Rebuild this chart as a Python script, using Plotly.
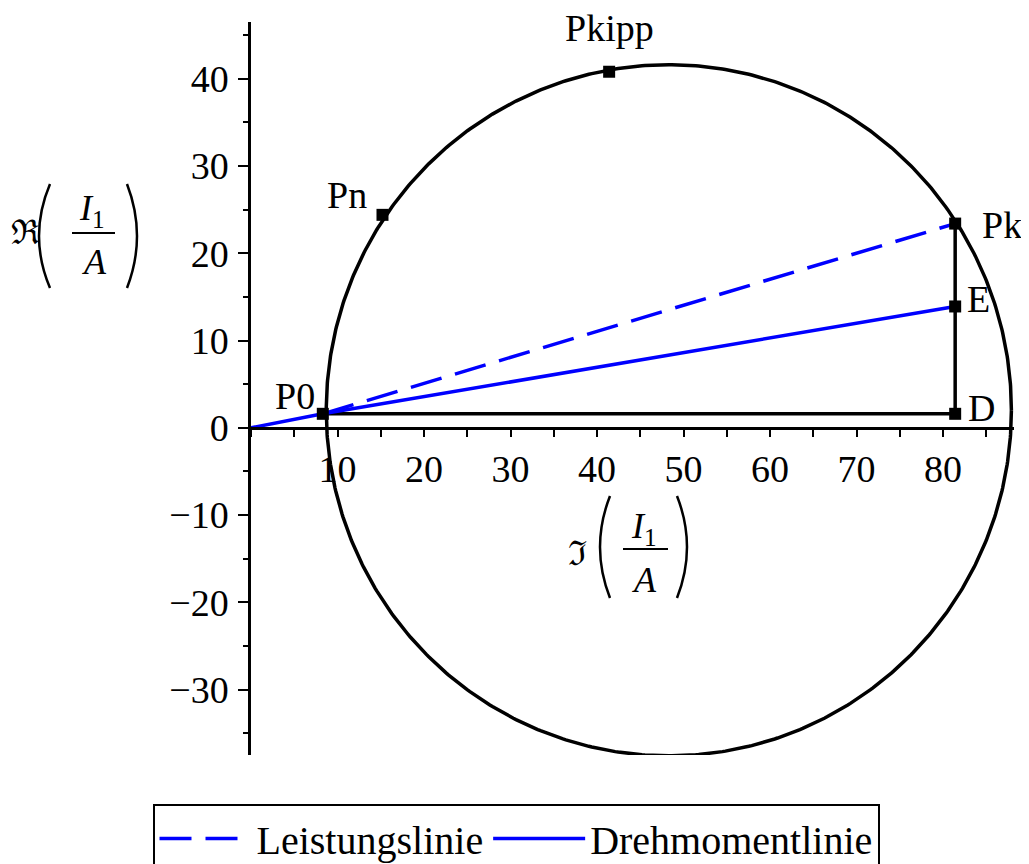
import numpy as np
import plotly.graph_objects as go

# ---- data ----
point_names = ["P0", "Pn", "Pkipp", "Pk", "E", "D"]
point_x = [8.3, 15.2, 41.4, 81.4, 81.4, 81.4]
point_y = [1.6, 24.4, 40.8, 23.4, 13.9, 1.6]

circle_center = (48.3, 2.0)
circle_radius = 39.6

origin = (0.0, 0.0)
x_ticks = [10, 20, 30, 40, 50, 60, 70, 80]
y_ticks = [-30, -20, -10, 0, 10, 20, 30, 40]
x_range = [0, 88.2]
y_range = [-37.5, 46.5]

# ---- style / layout ----
label_shift = [(-28, 18), (-35, 20), (0, 44), (47, -1), (23, 7), (26, 6)]  # (dx, dy) px
OFF = 8                       # page body margin
W, H = 1029 - OFF, 864 - OFF
PL, PR, PT, PB = 251, 1014, 22, 755   # plot area in screen pixels
ML, MR, MT, MB = PL - OFF, 1029 - PR, PT - OFF, 864 - PB
FONT = "Liberation Serif, Times New Roman, Times, DejaVu Serif, serif"

P = dict(zip(point_names, zip(point_x, point_y)))

fig = go.Figure()

# circle
t = np.linspace(0, 2 * np.pi, 721)
fig.add_trace(go.Scatter(
    x=circle_center[0] + circle_radius * np.cos(t),
    y=circle_center[1] + circle_radius * np.sin(t),
    mode="lines", line=dict(color="black", width=3.5), showlegend=False, hoverinfo="skip"))

# black lines P0 -> D -> Pk
fig.add_trace(go.Scatter(
    x=[P["P0"][0], P["D"][0], P["Pk"][0]],
    y=[P["P0"][1], P["D"][1], P["Pk"][1]],
    mode="lines", line=dict(color="black", width=3.5), showlegend=False))

# Leistungslinie (dashed) P0 -> Pk
fig.add_trace(go.Scatter(
    x=[P["P0"][0], P["Pk"][0]], y=[P["P0"][1], P["Pk"][1]],
    mode="lines", name="Leistungslinie",
    line=dict(color="#0000ff", width=3.5, dash="32px,14px")))

# Drehmomentlinie origin -> P0 -> E
fig.add_trace(go.Scatter(
    x=[origin[0], P["P0"][0], P["E"][0]], y=[origin[1], P["P0"][1], P["E"][1]],
    mode="lines", name="Drehmomentlinie",
    line=dict(color="#0000ff", width=3.5)))

# points
fig.add_trace(go.Scatter(
    x=point_x, y=point_y, mode="markers",
    marker=dict(symbol="square", size=12, color="black"),
    showlegend=False))

pw = PR - PL
ph = PB - PT


def px(xs):
    return (xs - PL) / pw


def py(ys):
    return (PB - ys) / ph


zero_pos = (0 - y_range[0]) / (y_range[1] - y_range[0])

annotations = []
for name, x, y, (dx, dy) in zip(point_names, point_x, point_y, label_shift):
    annotations.append(dict(text=name, x=x, y=y, xref="x", yref="y", showarrow=False,
                            xshift=dx, yshift=dy, xanchor="center", yanchor="middle",
                            font=dict(family=FONT, size=38, color="black")))


def ann(text, x, y, size):
    annotations.append(dict(text=text, x=px(x), y=py(y), xref="paper", yref="paper",
                            showarrow=False, font=dict(family=FONT, size=size, color="black"),
                            xanchor="center", yanchor="middle"))


def paren(x_end, x_mid, y_top, y_bot):
    ctrl = 2 * x_mid - x_end
    ym = (y_top + y_bot) / 2
    path = "M {:.5f},{:.5f} Q {:.5f},{:.5f} {:.5f},{:.5f}".format(
        px(x_end), py(y_top), px(ctrl), py(ym), px(x_end), py(y_bot))
    return dict(type="path", xref="paper", yref="paper", path=path,
                line=dict(color="black", width=2.5))


def bar(x0, x1, y):
    return dict(type="line", xref="paper", yref="paper", x0=px(x0), x1=px(x1), y0=py(y), y1=py(y),
                line=dict(color="black", width=2))


# y-axis label  R(I1/A)
ann("ℜ", 25, 232, 34)
ann("<i>I</i><sub>1</sub>", 92, 210, 36)
ann("<i>A</i>", 94, 262, 36)
# x-axis label  I(I1/A)
ann("ℑ", 577, 553, 34)
ann("<i>I</i><sub>1</sub>", 644, 528, 36)
ann("<i>A</i>", 644, 580, 36)

shapes = [
    bar(72, 115, 233),
    bar(623, 668, 549),
    paren(50, 39, 184, 288),
    paren(127, 137, 184, 288),
    paren(610, 600, 496, 598),
    paren(677, 687, 496, 598),
]

fig.update_layout(
    width=W, height=H,
    margin=dict(l=ML, r=MR, t=MT, b=MB, autoexpand=False),
    paper_bgcolor="white", plot_bgcolor="white",
    font=dict(family=FONT, size=38, color="black"),
    annotations=annotations, shapes=shapes,
    xaxis=dict(range=x_range, tickvals=x_ticks, ticks="outside", ticklen=7, tickwidth=1.5,
               tickcolor="black", showline=True, linecolor="black", linewidth=2.5,
               showgrid=False, zeroline=False, anchor="free", position=zero_pos,
               tickfont=dict(family=FONT, size=38),
               minor=dict(dtick=5, tick0=0, ticks="outside", ticklen=7, tickwidth=1.5,
                          tickcolor="black", showgrid=False)),
    yaxis=dict(range=y_range, tickvals=y_ticks, ticks="outside", ticklen=10, tickwidth=1.5,
               tickcolor="black", showline=True, linecolor="black", linewidth=2.5,
               showgrid=False, zeroline=False, ticklabelstandoff=2,
               tickfont=dict(family=FONT, size=38),
               minor=dict(dtick=5, tick0=0, ticks="outside", ticklen=5, tickwidth=1.5,
                          tickcolor="black", showgrid=False)),
    legend=dict(orientation="h", xref="container", yref="container",
                x=(516 - OFF) / W, xanchor="center", y=1 - (804 - OFF) / H, yanchor="top",
                bordercolor="black", borderwidth=2, bgcolor="white",
                font=dict(family=FONT, size=40), itemwidth=92),
    showlegend=True,
)

fig.write_html("out.html")
